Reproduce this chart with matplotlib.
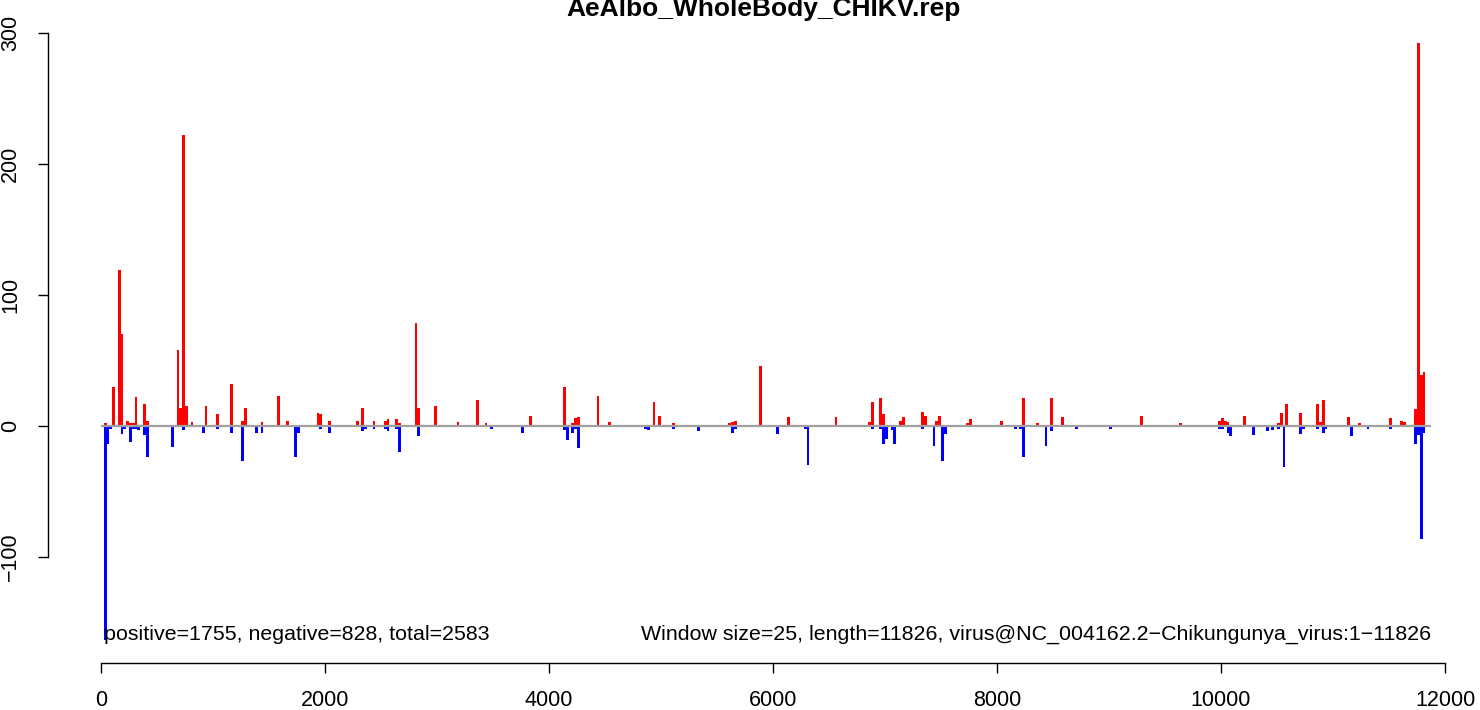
import matplotlib
matplotlib.use("Agg")
import matplotlib.pyplot as plt

plt.rcParams["font.family"] = ["Liberation Sans", "DejaVu Sans"]

title = "AeAlbo_WholeBody_CHIKV.rep"
left_note = "positive=1755, negative=828, total=2583"
right_note = ("Window size=25, length=11826, "
              "virus@NC_004162.2\u2212Chikungunya_virus:1\u221211826")
window = 25
genome_length = 11826

pos_x = [25, 50, 100, 150, 175, 200, 225, 250, 275, 300, 325, 375, 400, 625, 675,
         700, 725, 750, 800, 925, 1000, 1025, 1150, 1175, 1250, 1275, 1350, 1375,
         1425, 1575, 1650, 1725, 1750, 1925, 1950, 2025, 2150, 2275, 2325, 2425,
         2525, 2550, 2600, 2625, 2650, 2700, 2775, 2800, 2825, 2975, 3175, 3350,
         3400, 3425, 3825, 4000, 4100, 4125, 4200, 4225, 4250, 4425, 4450, 4525,
         4625, 4900, 4925, 4975, 5100, 5325, 5600, 5625, 5650, 5775, 5825, 5850,
         5875, 6125, 6275, 6300, 6550, 6575, 6700, 6850, 6875, 6950, 6975, 7000,
         7075, 7125, 7150, 7325, 7350, 7400, 7425, 7450, 7475, 7500, 7725, 7750,
         7975, 8025, 8075, 8150, 8225, 8350, 8475, 8575, 8675, 9025, 9275, 9300,
         9625, 9950, 9975, 10000, 10025, 10050, 10075, 10150, 10200, 10250, 10275,
         10300, 10400, 10450, 10500, 10525, 10550, 10575, 10700, 10725, 10825,
         10850, 10875, 10900, 10925, 11125, 11150, 11225, 11300, 11350, 11400,
         11500, 11525, 11600, 11625, 11725, 11750, 11775, 11800]
pos_y = [2, 1, 30, 119, 70, 1, 4, 2, 2, 22, 1, 17, 4, 1, 58,
         14, 222, 15, 3, 15, 1, 9, 32, 1, 4, 14, 1, 1,
         3, 23, 4, 1, 1, 10, 9, 4, 1, 4, 14, 4,
         4, 5, 1, 5, 2, 1, 1, 79, 14, 15, 3, 20,
         1, 2, 8, 1, 1, 30, 2, 6, 7, 23, 1, 3,
         1, 1, 18, 8, 2, 1, 2, 3, 4, 1, 1, 1,
         46, 7, 1, 1, 7, 1, 1, 3, 18, 21, 9, 1,
         1, 4, 7, 11, 8, 1, 1, 4, 8, 1, 2, 5,
         1, 4, 1, 1, 21, 2, 21, 7, 1, 1, 8, 1,
         2, 1, 4, 6, 4, 3, 1, 1, 8, 1, 1,
         1, 1, 1, 2, 10, 1, 17, 10, 1, 1,
         17, 3, 20, 1, 7, 1, 2, 1, 1, 1,
         6, 1, 4, 3, 13, 292, 39, 41]

neg_x = [25, 50, 75, 100, 125, 175, 200, 250, 275, 300, 325, 375, 400, 575, 625,
         675, 725, 750, 800, 825, 900, 925, 950, 1025, 1150, 1250, 1275, 1375,
         1425, 1700, 1725, 1750, 1925, 1950, 2025, 2150, 2275, 2325, 2350, 2425,
         2525, 2550, 2600, 2625, 2650, 2700, 2775, 2825, 3175, 3250, 3350, 3400,
         3475, 3500, 3750, 3925, 4100, 4125, 4150, 4200, 4225, 4250, 4450, 4850,
         4875, 4925, 4950, 5025, 5100, 5325, 5600, 5625, 5650, 5875, 6025, 6275,
         6300, 6400, 6725, 6875, 6950, 6975, 7000, 7050, 7075, 7150, 7250, 7325,
         7425, 7500, 7525, 7575, 7725, 7975, 8075, 8150, 8175, 8200, 8225, 8325,
         8350, 8425, 8475, 8575, 8675, 8700, 8725, 9000, 9025, 9275, 9425, 9600,
         9625, 9925, 9975, 10000, 10025, 10050, 10075, 10200, 10275, 10400, 10450,
         10500, 10550, 10575, 10700, 10725, 10825, 10850, 10900, 10925, 11000,
         11150, 11300, 11500, 11550, 11650, 11700, 11725, 11750, 11775, 11800]
neg_y = [-163, -14, -2, -1, -1, -6, -2, -12, -2, -2, -3, -7, -24, -1, -16,
         -1, -3, -1, -1, -1, -5, -1, -1, -2, -5, -27, -1, -5,
         -5, -1, -24, -5, -1, -2, -5, -1, -1, -4, -2, -2,
         -2, -4, -1, -2, -20, -1, -1, -8, -1, -1, -1, -1,
         -2, -1, -5, -1, -1, -3, -11, -5, -2, -17, -1, -2,
         -3, -1, -1, -1, -2, -4, -1, -5, -2, -1, -6, -2,
         -30, -1, -1, -2, -2, -14, -10, -3, -14, -1, -1, -2,
         -15, -27, -6, -1, -1, -1, -1, -2, -1, -2, -24, -1,
         -1, -15, -4, -1, -1, -2, -1, -2, -1, -1, -1, -1,
         -1, -1, -2, -2, -1, -5, -8, -1, -7, -4, -3,
         -2, -31, -1, -6, -2, -1, -2, -5, -2, -1,
         -8, -2, -2, -1, -1, -1, -14, -7, -86, -5]

x_ticks = [0, 2000, 4000, 6000, 8000, 10000, 12000]
y_ticks = [-100, 0, 100, 200, 300]

W, H = 1480, 710
fig = plt.figure(figsize=(W / 100, H / 100), dpi=100)
ax = fig.add_axes([48 / W, 1 - 663.4 / H, 1430.5 / W, (663.4 - 19.6) / H])

ax.bar(pos_x, pos_y, width=window, align="edge", color="#FF0000",
       linewidth=0, antialiased=False, zorder=2)
ax.bar(neg_x, neg_y, width=window, align="edge", color="#0000FF",
       linewidth=0, antialiased=False, zorder=2)
ax.plot([0, genome_length + 50], [0, 0], color="#A0A0A0", lw=1.6,
        solid_capstyle="butt", zorder=3)

ax.set_xlim(-473, 12299)
ax.set_ylim(-181.2, 310.2)

for s in ("top", "right"):
    ax.spines[s].set_visible(False)
ax.spines["left"].set_bounds(y_ticks[0], y_ticks[-1])
ax.spines["bottom"].set_bounds(x_ticks[0], x_ticks[-1])
for s in ("left", "bottom"):
    ax.spines[s].set_linewidth(1.0)
    ax.spines[s].set_color("black")

ax.set_xticks(x_ticks)
ax.set_xticklabels([str(t) for t in x_ticks])
ax.set_yticks(y_ticks)
ax.set_yticklabels([str(t).replace("-", "\u2212") for t in y_ticks],
                   rotation=90, va="center")
ax.tick_params(axis="both", direction="out", length=7.2, width=1.0,
               labelsize=15.5, colors="black")
ax.tick_params(axis="x", pad=12)
ax.tick_params(axis="y", pad=12)

ax.text(25, -163, left_note, ha="left", va="baseline", fontsize=15.4)
ax.text(11880, -163, right_note, ha="right", va="baseline", fontsize=15.4)

fig.text((48 + 1478.5) / 2 / W, 1 - 16 / H, title, ha="center",
         va="baseline", fontsize=19, fontweight="bold")

fig.savefig("out.png", dpi=100)
